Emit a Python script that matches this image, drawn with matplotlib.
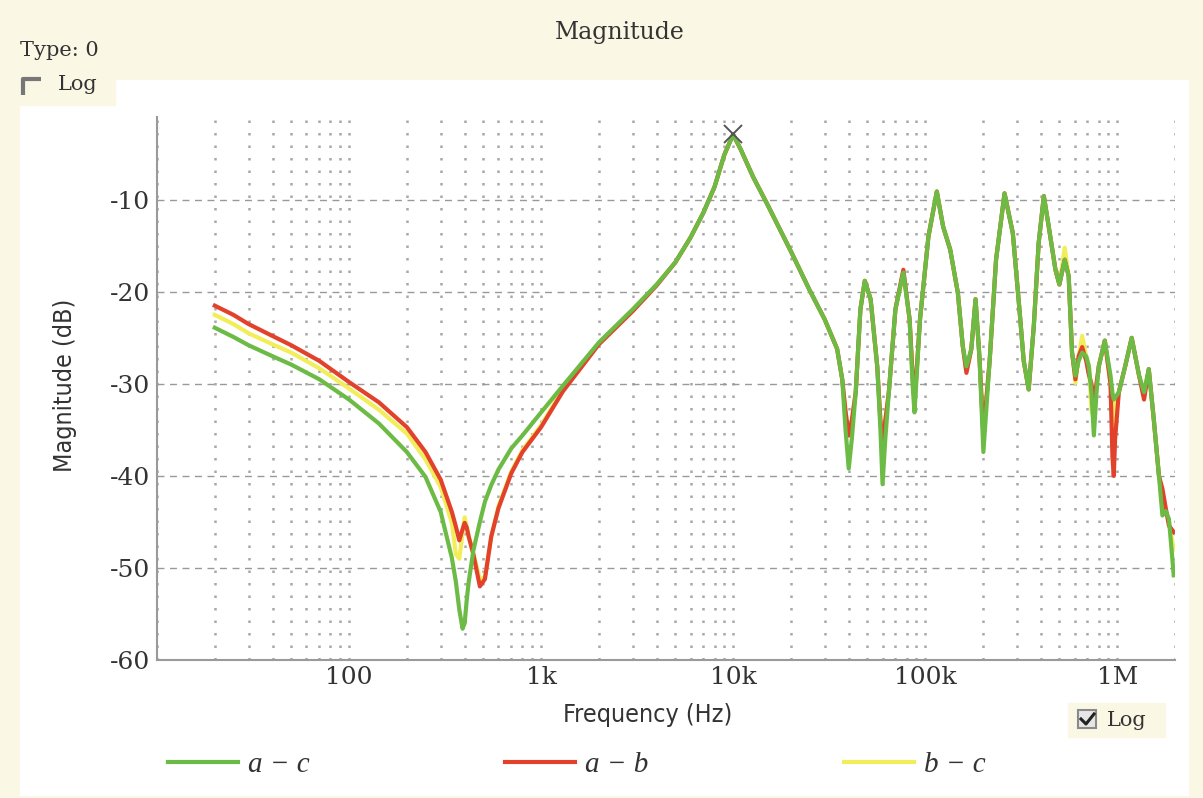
import matplotlib
matplotlib.use("Agg")
import matplotlib.pyplot as plt
from matplotlib.ticker import LogLocator, FixedLocator, NullFormatter
from matplotlib.patches import Rectangle
from matplotlib.lines import Line2D

# ---- data ----
freq = [20, 25, 30, 40, 50, 70, 100, 143, 200, 250, 300, 343, 360, 375, 390, 400,
        410, 420, 444, 480, 510, 550, 600, 700, 800, 1000, 1300, 2000, 3000, 4000,
        5000, 6000, 7000, 8000, 9000, 10000, 11000, 12700, 15000, 20000, 25000,
        30000, 34800, 37000, 38500, 40000, 41500, 43500, 46000, 48500, 52000, 56300,
        58500, 60000, 62000, 64700, 70000, 77000, 83000, 86000, 88000, 91000, 94000,
        104000, 115000, 124000, 135000, 148000, 157000, 164000, 174000, 183000,
        192000, 201000, 217000, 234000, 259000, 286000, 310000, 326000, 346000,
        368000, 390000, 415000, 440000, 477000, 500000, 533000, 559000, 582000,
        606000, 630000, 657000, 690000, 712000, 735000, 756000, 780000, 802000,
        862000, 923000, 945000, 960000, 975000, 1020000, 1100000, 1190000, 1300000,
        1380000, 1460000, 1550000, 1650000, 1720000, 1790000, 1860000, 1970000]

mag_ac = [-23.9, -24.9, -25.8, -27.0, -27.9, -29.5, -31.7, -34.3, -37.4, -40.1, -43.9,
          -48.9, -51.5, -54.5, -56.6, -56.0, -53.5, -51.5, -48.1, -45.0, -42.8, -41.0,
          -39.3, -37.0, -35.6, -33.1, -30.2, -25.5, -21.9, -19.2, -16.8, -14.1, -11.4,
          -8.6, -5.1, -2.9, -4.6, -7.5, -10.4, -15.6, -19.8, -23.0, -26.2, -29.5,
          -35.0, -39.2, -36.0, -30.9, -21.9, -18.8, -20.8, -28.1, -35.0, -40.9, -36.0,
          -30.9, -21.9, -17.9, -23.0, -30.0, -33.1, -28.0, -23.0, -14.0, -9.1, -12.9,
          -15.4, -20.1, -25.9, -28.1, -26.2, -20.8, -27.3, -37.4, -27.3, -16.5, -9.3,
          -13.6, -22.0, -27.5, -30.6, -23.7, -14.7, -9.6, -12.9, -17.6, -19.2, -16.5,
          -18.3, -26.6, -29.1, -27.5, -26.6, -27.0, -28.1, -31.0, -35.6, -31.0, -28.1,
          -25.3, -29.1, -31.0, -31.7, -31.5, -30.9, -28.1, -25.0, -29.1, -30.9, -28.4,
          -33.8, -40.0, -44.3, -43.8, -44.7, -50.8]

mag_ab = [-21.5, -22.5, -23.5, -24.8, -25.8, -27.5, -29.8, -32.0, -34.7, -37.4, -40.4,
          -43.9, -45.5, -47.0, -45.8, -45.1, -45.6, -46.6, -48.5, -52.0, -51.2, -46.6,
          -43.5, -39.7, -37.4, -34.7, -30.8, -25.7, -22.1, -19.3, -16.8, -14.1, -11.4,
          -8.6, -5.1, -2.9, -4.6, -7.5, -10.4, -15.6, -19.8, -23.0, -26.2, -29.5,
          -33.0, -35.6, -34.0, -30.9, -21.9, -18.8, -20.8, -28.1, -34.0, -37.0, -34.0,
          -30.9, -21.9, -17.6, -23.0, -29.0, -32.0, -27.5, -23.0, -14.0, -9.1, -12.9,
          -15.4, -20.1, -25.9, -28.8, -26.2, -20.8, -27.3, -35.5, -27.3, -16.5, -9.3,
          -13.6, -22.0, -27.5, -30.6, -23.7, -14.7, -9.6, -12.9, -17.6, -19.2, -16.5,
          -18.3, -26.6, -29.5, -27.0, -26.0, -27.5, -29.0, -30.0, -32.0, -30.0, -28.1,
          -25.3, -30.0, -38.0, -40.0, -36.0, -30.9, -28.1, -25.0, -29.1, -31.7, -28.4,
          -33.8, -40.0, -41.4, -43.5, -45.4, -46.1]

mag_bc = [-22.5, -23.5, -24.5, -25.7, -26.6, -28.3, -30.5, -32.8, -35.4, -38.2, -41.2,
          -45.1, -48.5, -49.0, -46.2, -44.5, -45.5, -46.6, -48.5, -51.2, -51.0, -46.6,
          -43.3, -39.5, -37.2, -34.5, -30.6, -25.6, -22.0, -19.2, -16.8, -14.1, -11.4,
          -8.6, -5.1, -2.9, -4.6, -7.5, -10.4, -15.6, -19.8, -23.0, -26.2, -29.5,
          -33.0, -35.6, -34.0, -30.9, -21.9, -18.8, -20.8, -28.1, -34.0, -37.0, -34.0,
          -30.9, -21.9, -17.9, -23.0, -29.0, -32.0, -27.5, -23.0, -14.0, -9.1, -12.9,
          -15.4, -20.1, -25.9, -28.5, -26.2, -20.8, -27.3, -35.5, -27.3, -16.5, -9.3,
          -13.6, -22.0, -27.5, -30.6, -23.7, -14.7, -9.6, -12.9, -17.6, -19.2, -15.2,
          -18.3, -26.6, -29.9, -27.0, -24.8, -27.0, -28.0, -33.0, -33.5, -30.0, -28.0,
          -25.3, -30.0, -33.0, -34.5, -32.0, -30.9, -28.1, -25.0, -29.1, -31.0, -28.4,
          -33.8, -40.0, -43.0, -43.8, -45.0, -48.0]

series_labels = ["a \u2212 c", "a \u2212 b", "b \u2212 c"]
series_colors = ["#6cbb45", "#e2412b", "#f2ee5a"]
x_ticks = [100, 1e3, 1e4, 1e5, 1e6]
x_labels = ["100", "1k", "10k", "100k", "1M"]
y_ticks = [-60, -50, -40, -30, -20, -10]
peak_f, peak_db = 10000, -2.9

BEIGE = "#faf7e4"
W, H = 1203, 798


def fx(x):
    return x / W


def fy(y):
    return 1 - y / H


fig = plt.figure(figsize=(W / 100, H / 100), dpi=100, facecolor=BEIGE)

# white panel and the beige control boxes (behind the axes)
fig.patches.append(Rectangle((fx(20), fy(795)), fx(1188) - fx(20), fy(80) - fy(795),
                             transform=fig.transFigure, color="white", zorder=-3))
fig.patches.append(Rectangle((0, fy(105)), fx(115), 1 - fy(105),
                             transform=fig.transFigure, color=BEIGE, zorder=-2))
fig.patches.append(Rectangle((fx(1068), fy(737)), fx(1165) - fx(1068), fy(703) - fy(737),
                             transform=fig.transFigure, color=BEIGE, zorder=-2))

ax = fig.add_axes([fx(157), fy(660), fx(1175) - fx(157), fy(117) - fy(660)])
ax.set_facecolor("none")

lines = {}
for lab, col, vals in reversed(list(zip(series_labels, series_colors, [mag_ac, mag_ab, mag_bc]))):
    lines[lab], = ax.plot(freq, vals, color=col, lw=3.0, solid_joinstyle="round", zorder=3)
ax.plot(peak_f, peak_db, marker="x", color="#555555", ms=13, mew=1.4, zorder=4)

ax.set_xscale("log")
ax.set_xlim(10, 2.0e6)
ax.set_ylim(-60, -1)

ax.xaxis.set_major_locator(FixedLocator(x_ticks))
ax.set_xticklabels(x_labels)
ax.xaxis.set_minor_locator(LogLocator(base=10, subs=range(1, 10), numticks=30))
ax.xaxis.set_minor_formatter(NullFormatter())
ax.set_yticks(y_ticks)
ax.set_yticklabels([str(v) for v in y_ticks])

ax.grid(which="minor", axis="x", color="#a8a8a8", linestyle=(0, (1, 4)), lw=1.8)
ax.grid(which="major", axis="x", color="#a8a8a8", linestyle=(0, (1, 4)), lw=1.8)
ax.grid(which="major", axis="y", color="#999999", linestyle=(0, (5, 4)), lw=1.0)
ax.set_axisbelow(True)

for s in ["top", "right"]:
    ax.spines[s].set_visible(False)
for s in ["left", "bottom"]:
    ax.spines[s].set_color("#9a9a9a")
    ax.spines[s].set_linewidth(1.5)

ax.tick_params(which="both", length=0)
ax.tick_params(axis="y", pad=5, labelsize=18, labelcolor="#333333")
ax.tick_params(axis="x", pad=4, labelsize=18, labelcolor="#333333")
for t in ax.get_xticklabels() + ax.get_yticklabels():
    t.set_family("DejaVu Serif")

fig.text(fx(65), fy(385), "Magnitude (dB)", rotation=90, ha="center", va="center",
         family="DejaVu Sans", stretch="condensed", fontsize=18, color="#333333")
fig.text(fx(648), fy(715), "Frequency (Hz)", ha="center", va="center",
         family="DejaVu Sans", stretch="condensed", fontsize=18, color="#333333")

fig.text(fx(620), fy(33), "Magnitude", ha="center", va="center",
         family="DejaVu Serif", fontsize=17, color="#333333")
fig.text(fx(20), fy(50), "Type: 0", ha="left", va="center",
         family="DejaVu Serif", fontsize=15, color="#333333")
fig.text(fx(58), fy(85), "Log", ha="left", va="center",
         family="DejaVu Serif", fontsize=15, color="#333333")
fig.text(fx(1107), fy(720), "Log", ha="left", va="center",
         family="DejaVu Serif", fontsize=15, color="#333333")

# checkbox glyphs
fig.add_artist(Line2D([fx(23), fx(23), fx(41)], [fy(95), fy(79), fy(79)],
                      color="#777777", lw=3, solid_capstyle="butt"))
fig.patches.append(Rectangle((fx(1078), fy(728)), fx(18), fy(710) - fy(728),
                             transform=fig.transFigure, facecolor="#e6e6e6",
                             edgecolor="#8a8a8a", lw=1.5, zorder=1))
fig.add_artist(Line2D([fx(1081), fx(1086), fx(1094)], [fy(719), fy(724), fy(714)],
                      color="#222222", lw=2.2))

handles = [lines[l] for l in series_labels]
leg = fig.legend(handles, series_labels, loc="center", bbox_to_anchor=(fx(577), fy(765)),
                 ncol=3, frameon=False, handlelength=2.4, handletextpad=0.35,
                 columnspacing=6.7,
                 prop={"family": "Liberation Serif", "style": "italic", "size": 21})
for t in leg.get_texts():
    t.set_color("#333333")
for h in leg.legend_handles:
    h.set_linewidth(3)

fig.savefig("out.png", dpi=100, facecolor=BEIGE)
